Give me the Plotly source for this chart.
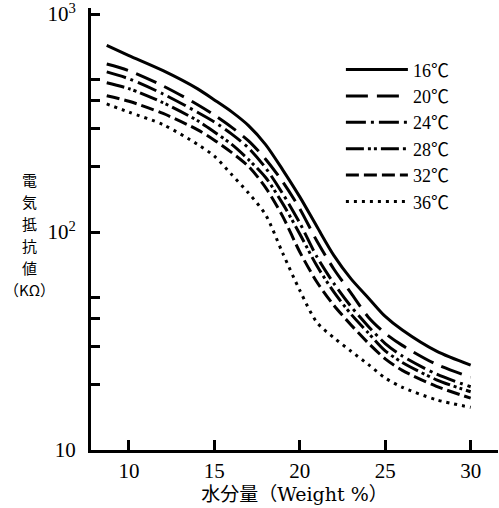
import plotly.graph_objects as go

# Moisture content (Weight %)
moisture = [8.7, 10, 12, 14, 15, 16, 17, 18, 19, 20, 21, 22, 23, 24, 25, 26, 28, 30]

# Electrical resistance (KΩ) per temperature
r16 = [718, 645, 550, 455, 404, 357, 308, 252, 193, 145, 106, 78, 61, 50, 41, 35.5, 28.4, 24.5]
r20 = [590, 550, 468, 385, 344, 303, 262, 216, 170, 128, 91, 67.5, 52.5, 40.8, 34.3, 30.2, 24.7, 21.6]
r24 = [543, 505, 430, 355, 320, 282, 243, 197, 150, 110, 77, 58, 45.5, 37, 30.8, 27, 22.3, 19.5]
r28 = [484, 455, 392, 325, 288, 253, 215, 178, 135, 98, 70, 53, 42, 34.5, 28.5, 25.2, 21, 18.5]
r32 = [422, 398, 350, 295, 264, 232, 200, 160, 118, 81, 59, 46, 37.5, 31, 26.2, 23.2, 19.6, 17.3]
r36 = [387, 355, 311, 253, 223, 184, 151, 120, 80, 54, 38.5, 32.7, 28.4, 24.7, 21.4, 19.4, 17.0, 15.7]

series = [
    ("16℃", r16, "solid"),
    ("20℃", r20, "22px,9px"),
    ("24℃", r24, "20px,5px,3px,5px"),
    ("28℃", r28, "18px,4px,3px,3px,3px,4px"),
    ("32℃", r32, "13px,5px"),
    ("36℃", r36, "3px,5px"),
]

y_tickvals = [10, 100, 1000]
y_ticktext = ["10", "10<sup>2</sup>", "10<sup>3</sup>"]
y_minorvals = [20, 30, 40, 50, 200, 300, 400, 500]
x_tickvals = [10, 15, 20, 25, 30]
x_ticktext = ["10", "15", "20", "25", "30"]
y_label_lines = ["電", "気", "抵", "抗", "値", "（KΩ）"]

fig = go.Figure()
for name, vals, dash in series:
    fig.add_trace(go.Scatter(
        x=moisture, y=vals, name=name, mode="lines",
        line=dict(color="black", width=3, dash=dash, shape="spline", smoothing=0.8),
    ))

serif = "Liberation Serif, Noto Sans CJK JP, serif"

annotations = []
for i, ch in enumerate(y_label_lines):
    annotations.append(dict(
        text=ch, xref="paper", yref="paper", x=-0.15, y=0.487,
        xanchor="center", yanchor="middle", yshift=-22 * (i - 2.5),
        showarrow=False,
        font=dict(family="Noto Sans CJK JP, sans-serif", size=15, color="black"),
    ))

fig.update_layout(
    width=499, height=508,
    margin=dict(l=91, r=1, t=8, b=58, autoexpand=False),
    paper_bgcolor="white", plot_bgcolor="white",
    showlegend=True,
    legend=dict(
        x=0.614, y=0.902, xanchor="left", yanchor="top",
        font=dict(family=serif, size=18, color="black"),
        bgcolor="rgba(0,0,0,0)", itemwidth=62, tracegroupgap=0,
    ),
    xaxis=dict(
        range=[7.78, 31.6], showgrid=False, zeroline=False, automargin=False,
        showline=True, linecolor="black", linewidth=3,
        ticks="inside", ticklen=10, tickwidth=3, tickcolor="black",
        tickmode="array", tickvals=x_tickvals, ticktext=x_ticktext,
        tickfont=dict(family=serif, size=21, color="black"),
        ticklabeloverflow="allow",
        title=dict(text="水分量（Weight %）",
                   font=dict(family="DejaVu Serif, Noto Sans CJK JP, serif", size=19, color="black"),
                   standoff=0),
    ),
    yaxis=dict(
        type="log", range=[1, 3.028], showgrid=False, zeroline=False, automargin=False,
        showline=True, linecolor="black", linewidth=3,
        ticks="inside", ticklen=9, tickwidth=3, tickcolor="black",
        tickmode="array", tickvals=y_tickvals, ticktext=y_ticktext,
        tickfont=dict(family=serif, size=21, color="black"),
        ticklabeloverflow="allow", ticklabelstandoff=8,
        minor=dict(tickmode="array", tickvals=y_minorvals, ticks="inside",
                   ticklen=9, tickwidth=3, tickcolor="black", showgrid=False),
    ),
    annotations=annotations,
)

fig.write_html("out.html", config={"displayModeBar": False},
               post_script="document.body.style.margin='0px';document.body.style.padding='0px';")
